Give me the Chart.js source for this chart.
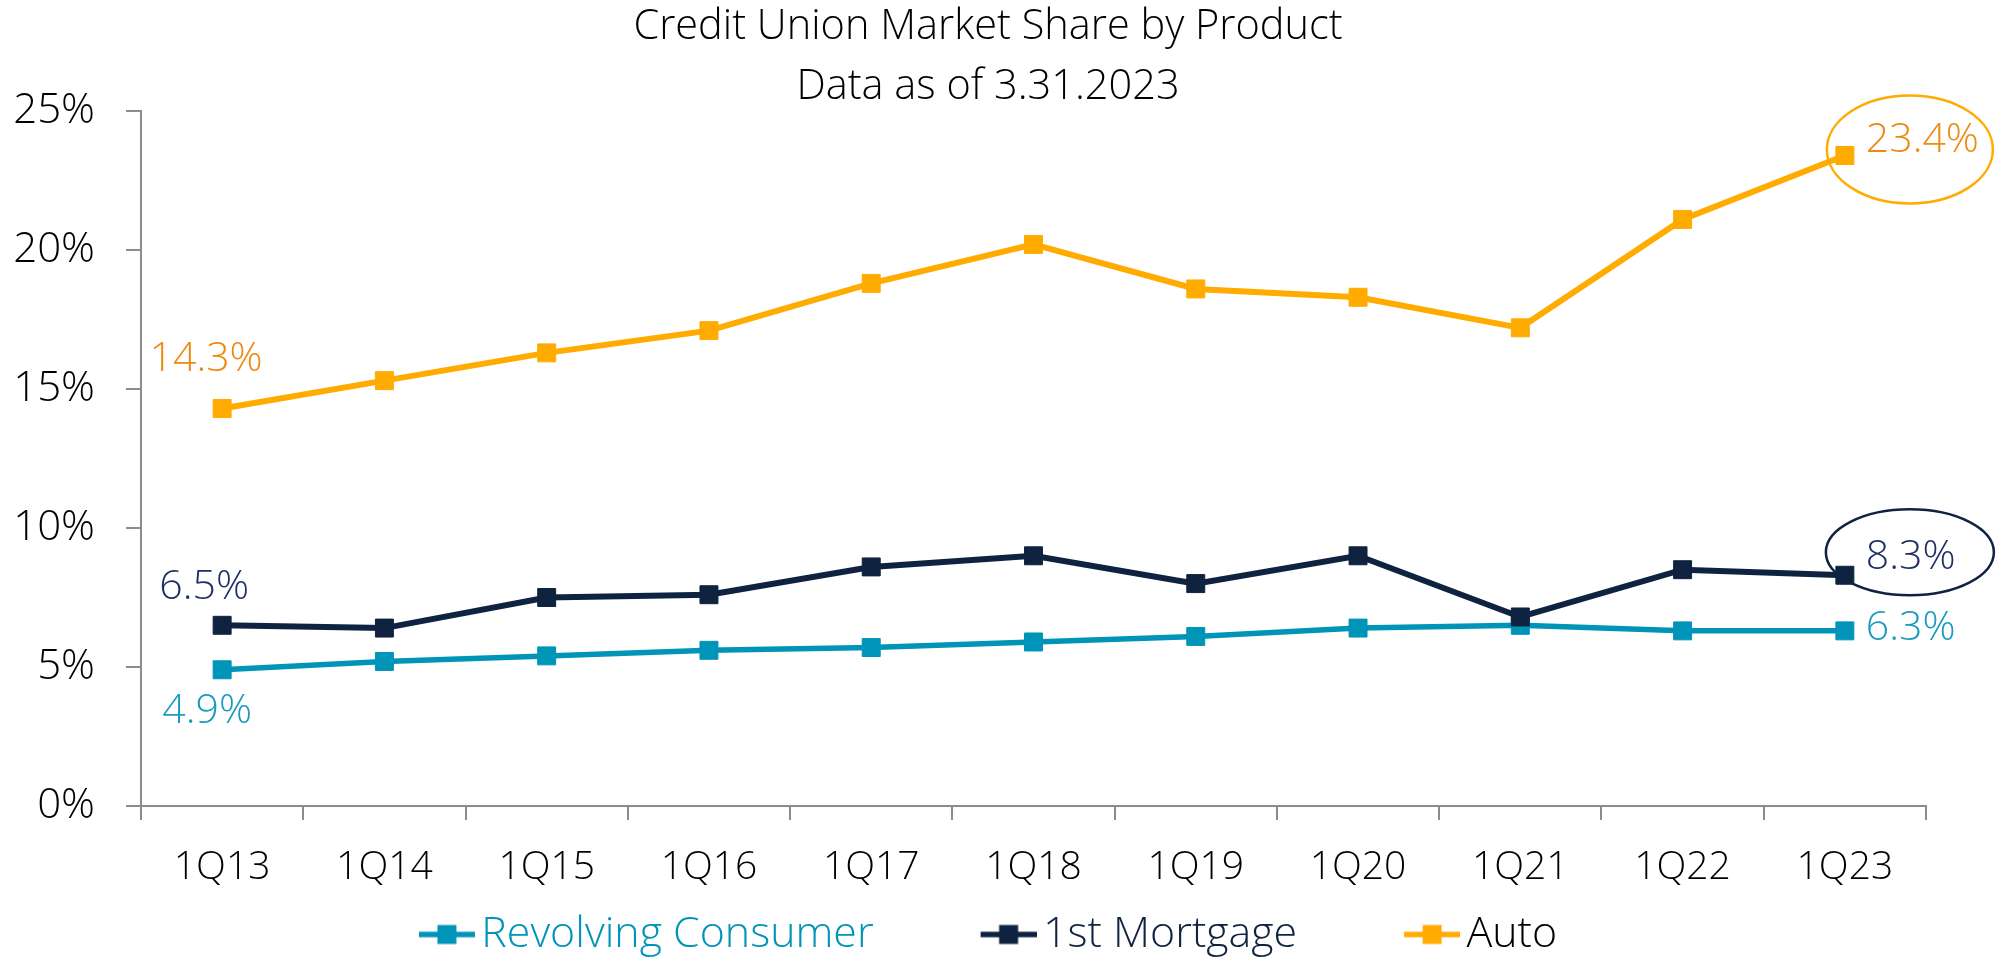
<!DOCTYPE html>
<html>
<head>
<meta charset="utf-8">
<title>Credit Union Market Share by Product</title>
<script src="https://cdn.jsdelivr.net/npm/chart.js@4.4.1/dist/chart.umd.min.js"></script>
<style>
    html, body { margin: 0; padding: 0; background: #ffffff; }
    #wrap { width: 2010px; height: 957px; }
</style>
</head>
<body>
<div id="wrap"><canvas id="share-chart" width="2010" height="957"></canvas></div>
<script>
const quarters = ['1Q13', '1Q14', '1Q15', '1Q16', '1Q17', '1Q18', '1Q19', '1Q20', '1Q21', '1Q22', '1Q23'];
const revolvingShare = [4.9, 5.2, 5.4, 5.6, 5.7, 5.9, 6.1, 6.4, 6.5, 6.3, 6.3];
const mortgageShare = [6.5, 6.4, 7.5, 7.6, 8.6, 9.0, 8.0, 9.0, 6.8, 8.5, 8.3];
const autoShare = [14.3, 15.3, 16.3, 17.1, 18.8, 20.2, 18.6, 18.3, 17.2, 21.1, 23.4];
const seriesNames = ['Revolving Consumer', '1st Mortgage', 'Auto'];
const yTicks = [0, 5, 10, 15, 20, 25];
const titleLines = ['Credit Union Market Share by Product', 'Data as of 3.31.2023'];

const FONT = "'Open Sans', Lato, sans-serif";
const WEIGHT = 300;
const TEAL = '#0094b8';
const NAVY = '#0f2341';
const GOLD = '#ffab00';
const AXIS = '#8c8c8c';

const legendTextColors = [TEAL, NAVY, '#000000'];

// first/last point labels, offsets from the point in pixels
const callouts = [
    { ds: 2, i: 0, dx: -16, dy: -49, align: 'center', color: '#ec8a12' },
    { ds: 2, i: 10, dx: 21, dy: -15, align: 'left', color: '#ec8a12' },
    { ds: 1, i: 0, dx: -18, dy: -38, align: 'center', color: '#1f2f63' },
    { ds: 1, i: 10, dx: 21, dy: -18, align: 'left', color: '#1f2f63' },
    { ds: 0, i: 0, dx: -15, dy: 42, align: 'center', color: '#1a9ac0' },
    { ds: 0, i: 10, dx: 21, dy: -3, align: 'left', color: '#1a9ac0' }
];
const rings = [
    { ds: 2, i: 10, dx: 65, dy: -6, rx: 83, ry: 54, color: GOLD },
    { ds: 1, i: 10, dx: 65, dy: -23, rx: 84, ry: 43, color: NAVY }
];

// legend font sized so "Revolving Consumer" spans about as wide as in the original
const probe = document.createElement('canvas').getContext('2d');
probe.font = `${WEIGHT} 40px ${FONT}`;
const legendSize = Math.round(40 * 392 / probe.measureText(seriesNames[0]).width * 10) / 10;
const legendGap = 107;
const legendHeight = legendSize + legendGap + 10;
const titleSize = 41.5;
const titleLine = 60;

function legendMarker(color) {
    // line with a square, offset right so the text sits close to it
    const c = document.createElement('canvas');
    c.width = 71;
    c.height = 22;
    const g = c.getContext('2d');
    g.strokeStyle = color;
    g.lineWidth = 5.5;
    g.beginPath();
    g.moveTo(15, 11);
    g.lineTo(71, 11);
    g.stroke();
    g.fillStyle = color;
    g.fillRect(33.5, 1.5, 19, 19);
    return c;
}

const calloutPlugin = {
    id: 'callouts',
    afterDatasetsDraw(chart) {
        const ctx = chart.ctx;
        ctx.save();
        rings.forEach(r => {
            const pt = chart.getDatasetMeta(r.ds).data[r.i];
            ctx.beginPath();
            ctx.ellipse(pt.x + r.dx, pt.y + r.dy, r.rx, r.ry, 0, 0, Math.PI * 2);
            ctx.strokeStyle = r.color;
            ctx.lineWidth = 2.5;
            ctx.stroke();
        });
        ctx.font = `${WEIGHT} 41px ${FONT}`;
        ctx.textBaseline = 'middle';
        callouts.forEach(c => {
            const pt = chart.getDatasetMeta(c.ds).data[c.i];
            const value = chart.data.datasets[c.ds].data[c.i];
            ctx.fillStyle = c.color;
            ctx.textAlign = c.align;
            ctx.fillText(value.toFixed(1) + '%', pt.x + c.dx, pt.y + c.dy);
        });
        ctx.restore();
    }
};

function lineSet(label, data, color, width, order) {
    return {
        label: label,
        data: data,
        borderColor: color,
        backgroundColor: color,
        borderWidth: width,
        pointStyle: 'rect',
        pointRadius: 12.7,
        pointBorderWidth: 1,
        pointBackgroundColor: color,
        pointBorderColor: color,
        tension: 0,
        fill: false,
        order: order
    };
}

const ctx = document.getElementById('share-chart').getContext('2d');
new Chart(ctx, {
    type: 'line',
    data: {
        labels: quarters,
        datasets: [
            lineSet(seriesNames[0], revolvingShare, TEAL, 5.5, 3),
            lineSet(seriesNames[1], mortgageShare, NAVY, 6, 2),
            lineSet(seriesNames[2], autoShare, GOLD, 6, 1)
        ]
    },
    options: {
        responsive: false,
        animation: false,
        devicePixelRatio: 1,
        layout: {
            padding: { top: 0, left: 0, right: 34, bottom: 957 - 806 - legendHeight }
        },
        plugins: {
            tooltip: { enabled: false },
            title: {
                display: true,
                text: titleLines,
                color: '#000000',
                font: { family: FONT, size: titleSize, weight: WEIGHT, lineHeight: titleLine / titleSize },
                // plot top lands at 111px
                padding: { top: -2.5, bottom: 111 + 2.5 - 2 * titleLine }
            },
            legend: {
                position: 'bottom',
                labels: {
                    usePointStyle: true,
                    pointStyleWidth: 41,
                    padding: legendGap,
                    font: { family: FONT, size: legendSize, weight: WEIGHT, lineHeight: 1 },
                    sort: (a, b) => a.datasetIndex - b.datasetIndex,
                    generateLabels: (chart) => {
                        const items = Chart.defaults.plugins.legend.labels.generateLabels(chart);
                        items.forEach(item => {
                            const ds = chart.data.datasets[item.datasetIndex];
                            item.pointStyle = legendMarker(ds.borderColor);
                            item.fontColor = legendTextColors[item.datasetIndex];
                        });
                        return items;
                    }
                }
            }
        },
        scales: {
            x: {
                type: 'category',
                offset: true,
                afterFit: (scale) => { scale.height = 0; },
                grid: {
                    offset: true,
                    drawOnChartArea: false,
                    tickLength: 14,
                    color: AXIS,
                    lineWidth: 2
                },
                border: { display: true, color: AXIS, width: 2 },
                ticks: {
                    // mirror keeps the labels from being clipped to the zero-height axis box,
                    // the negative padding puts them back under the axis
                    mirror: true,
                    color: '#000000',
                    padding: -81,
                    maxRotation: 0,
                    autoSkip: false,
                    font: { family: FONT, size: 39, weight: WEIGHT, lineHeight: 1 }
                }
            },
            y: {
                min: yTicks[0],
                max: yTicks[yTicks.length - 1],
                afterFit: (scale) => { scale.width = 141; },
                afterBuildTicks: (scale) => { scale.ticks = yTicks.map(v => ({ value: v })); },
                grid: {
                    drawOnChartArea: false,
                    tickLength: 15,
                    color: AXIS,
                    lineWidth: 2
                },
                border: { display: true, color: AXIS, width: 2 },
                ticks: {
                    color: '#000000',
                    padding: 31,
                    font: { family: FONT, size: 42, weight: WEIGHT, lineHeight: 1 },
                    callback: (value) => `${value}%`
                }
            },
            // empty right-hand strip so the plot stops where the original does
            yRight: {
                type: 'linear',
                position: 'right',
                afterFit: (scale) => { scale.width = 50; },
                grid: { display: false },
                border: { display: false },
                ticks: { display: false }
            }
        }
    },
    plugins: [calloutPlugin]
});
</script>
</body>
</html>
